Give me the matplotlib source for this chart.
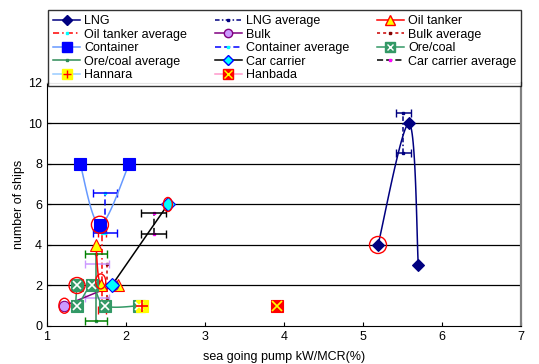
import numpy as np
import matplotlib.pyplot as plt
from matplotlib.patches import Ellipse
from matplotlib.legend_handler import HandlerTuple

plt.rcParams['font.family'] = ['Liberation Sans', 'DejaVu Sans']

# ---- ship data: x = sea going pump kW/MCR(%), y = number of ships
lng_x = [5.19, 5.585, 5.70]
lng_y = [4, 10, 3]
oil_x = [1.62, 1.68, 1.90]
oil_y = [4, 2, 2]
bulk_x = [1.22, 1.84]
bulk_y = [1, 2]
cont_x = [1.42, 1.67, 2.04]
cont_y = [8, 5, 8]
ore_x = [1.38, 1.38, 1.57, 1.73, 2.17]
ore_y = [2, 1, 2, 1, 1]
car_x = [1.82, 2.53]
car_y = [2, 6]
hannara_x = [2.20]
hannara_y = [1]
hanbada_x = [3.91]
hanbada_y = [1]

# ---- averages: centre x, y span, x spread
lng_avg_x, lng_avg_y, lng_avg_err = 5.51, [8.56, 10.53], 0.095
oil_avg_x, oil_avg_y, oil_avg_err = 1.70, [0.79, 4.6], 0.05
bulk_avg_x, bulk_avg_y, bulk_avg_err = 1.76, [1.39, 3.04], [0.28, 0.03]
cont_avg_x, cont_avg_y, cont_avg_err = 1.73, [4.58, 6.55], 0.15
ore_avg_x, ore_avg_y, ore_avg_err = 1.624, [0.25, 3.55], 0.14
car_avg_x, car_avg_y, car_avg_err = 2.35, [4.52, 5.56], 0.16

# ---- highlighted points (red rings)
hl_x = [1.67, 2.53, 5.19, 1.38, 1.22, 1.68]
hl_y = [5, 6, 4, 2, 1, 2.2]
hl_w = [17, 9, 17, 16, 11, 10]   # px
hl_h = [17, 14, 17, 16, 15, 15]  # px


def smooth(x, y, sx=79.0, sy=20.25, n=30):
    # catmull-rom through the points, like excel smoothed lines
    p = np.column_stack([np.array(x) * sx, np.array(y) * sy])
    if len(p) < 3:
        return np.array(x), np.array(y)
    p = np.vstack([p[0], p, p[-1]])
    out = []
    t = np.linspace(0, 1, n)[:, None]
    for i in range(1, len(p) - 2):
        p0, p1, p2, p3 = p[i - 1], p[i], p[i + 1], p[i + 2]
        seg = 0.5 * ((2 * p1) + (-p0 + p2) * t + (2 * p0 - 5 * p1 + 4 * p2 - p3) * t ** 2
                     + (-p0 + 3 * p1 - 3 * p2 + p3) * t ** 3)
        out.append(seg)
    out = np.vstack(out)
    return out[:, 0] / sx, out[:, 1] / sy


fig = plt.figure(figsize=(5.39, 3.64), dpi=100)
ax = fig.add_axes([0.0872, 0.1044, 0.8794, 0.6676])
ax.set_xlim(1, 7)
ax.set_ylim(0, 12)
ax.set_yticks(range(0, 13, 2))
ax.set_xticks(range(1, 8))
for yy in range(2, 12, 2):
    ax.axhline(yy, color='black', lw=0.9, zorder=0)
ax.tick_params(direction='in', labelsize=9, length=3)
for s in ['top', 'right']:
    ax.spines[s].set_color('#808080')
ax.spines['right'].set_linewidth(1.6)
ax.set_xlabel('sea going pump kW/MCR(%)', fontsize=9, labelpad=6)
ax.set_ylabel('number of ships', fontsize=9, labelpad=2)


def series(x, y, lc, mk, mfc, mec, ms, over=None, oc=None, oms=None, lw=1.1):
    sx_, sy_ = smooth(x, y)
    ax.plot(sx_, sy_, color=lc, lw=lw, zorder=3)
    ax.plot(x, y, ls='none', marker=mk, mfc=mfc, mec=mec, ms=ms, mew=0.8, zorder=5)
    hl, = ax.plot([], [], color=lc, lw=lw, marker=mk, mfc=mfc, mec=mec, ms=ms * 0.8)
    handles = [hl]
    if over is not None:
        ax.plot(x, y, ls='none', marker=over, color=oc, ms=oms, mew=1.2, zorder=6)
        ho, = ax.plot([], [], ls='none', marker=over, color=oc, ms=oms * 0.8, mew=1.0)
        handles.append(ho)
    return tuple(handles)


def average(x, y, err, lc, ls, mc, cap_c=None):
    h, = ax.plot([x, x], y, color=lc, ls=ls, lw=1.1, marker='s', ms=2,
                 mfc=mc, mec=mc, zorder=2)
    ax.errorbar([x, x], y, xerr=np.array(err).reshape(-1, 1) if np.ndim(err) else err,
                fmt='none', ecolor=cap_c or lc, elinewidth=1.1, capsize=3, zorder=2)
    return h


h_lng = series(lng_x, lng_y, '#000080', 'D', '#000080', '#000080', 6)
h_lng_avg = average(lng_avg_x, lng_avg_y, lng_avg_err, '#000080', (0, (3, 1.5, 1, 1.5)), '#000080')
h_oil_avg = average(oil_avg_x, oil_avg_y, oil_avg_err, 'red', (0, (4, 2, 1, 2)), 'cyan')
h_bulk_avg = average(bulk_avg_x, bulk_avg_y, bulk_avg_err, '#CC0000', (0, (2, 2)), '#800000', cap_c='#CC99FF')
h_cont_avg = average(cont_avg_x, cont_avg_y, cont_avg_err, '#0000FF', (0, (4, 2)), 'cyan')
h_ore_avg = average(ore_avg_x, ore_avg_y, ore_avg_err, '#2E8B57', '-', '#2E8B57', cap_c='#008000')
h_car_avg = average(car_avg_x, car_avg_y, car_avg_err, 'black', (0, (4, 2)), 'magenta')

h_oil = series(oil_x, oil_y, 'red', '^', '#FFFF00', 'red', 8.5)
h_bulk = series(bulk_x, bulk_y, '#800080', 'o', '#CC99FF', '#800080', 7.5)
h_cont = series(cont_x, cont_y, '#6699FF', 's', '#0000FF', '#0000FF', 8.5)
h_ore = series(ore_x, ore_y, '#339966', 's', '#339966', '#339966', 9, 'x', 'white', 6)
h_car = series(car_x, car_y, 'black', 'D', '#00FFFF', '#0000FF', 7)
h_han = series(hannara_x, hannara_y, '#99CCFF', 's', '#FFFF00', '#FFFF00', 9, '+', 'red', 8)
h_hbd = series(hanbada_x, hanbada_y, '#FF99CC', 's', '#FF0000', '#FF0000', 9, 'x', '#FFFF00', 7)

ux = ax.get_window_extent().width / 6
uy = ax.get_window_extent().height / 12
for x, y, w, h in zip(hl_x, hl_y, hl_w, hl_h):
    ax.add_patch(Ellipse((x, y), w / ux, h / uy, fill=False, ec='red', lw=1.0, zorder=7))

handles = [h_lng, h_oil_avg, h_cont, h_ore_avg, h_han,
           h_lng_avg, h_bulk, h_cont_avg, h_car, h_hbd,
           h_oil, h_bulk_avg, h_ore, h_car_avg]
labels = ['LNG', 'Oil tanker average', 'Container', 'Ore/coal average', 'Hannara',
          'LNG average', 'Bulk', 'Container average', 'Car carrier', 'Hanbada',
          'Oil tanker', 'Bulk average', 'Ore/coal', 'Car carrier average']
leg = fig.legend(handles, labels, ncol=3, loc='upper left',
                 bbox_to_anchor=(0.089, 0.78, 0.878, 0.1925), mode='expand',
                 borderaxespad=0, fontsize=9, labelspacing=0.12, handlelength=2.2,
                 handletextpad=0.3, fancybox=False, edgecolor='black',
                 handler_map={tuple: HandlerTuple(ndivide=1)})
leg.get_frame().set_linewidth(1.0)

plt.savefig('out.png', dpi=100)
